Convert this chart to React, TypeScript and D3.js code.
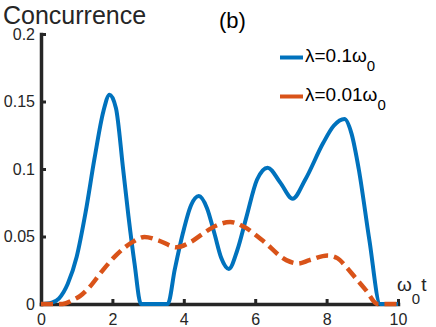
import { useEffect, useRef } from 'react';
import * as d3 from 'd3';

const W = 436, H = 327;
const M = { top: 34, right: 38, bottom: 23, left: 41 };
const X_TICKS = [0, 2, 4, 6, 8, 10];
const Y_TICKS = [0, 0.05, 0.1, 0.15, 0.2];

// lambda = 0.1 w0
const T_BLUE = [0, 0.3, 0.5, 0.75, 1.0, 1.25, 1.5, 1.75, 1.92, 2.1, 2.3, 2.45, 2.62, 2.8, 3.55, 3.75, 3.97, 4.2, 4.42, 4.65, 4.86, 5.05, 5.26, 5.5, 5.75, 6.05, 6.35, 6.7, 7.05, 7.4, 7.9, 8.2, 8.5, 8.7, 8.9, 9.2, 9.5, 10];
const C_BLUE = [0, 0.001, 0.004, 0.015, 0.035, 0.068, 0.108, 0.143, 0.155, 0.145, 0.1, 0.065, 0.03, 0, 0, 0.026, 0.052, 0.073, 0.08, 0.071, 0.052, 0.034, 0.026, 0.04, 0.064, 0.092, 0.101, 0.09, 0.078, 0.092, 0.119, 0.132, 0.137, 0.126, 0.1, 0.047, 0, 0];

// lambda = 0.01 w0
const T_RED = [0, 0.6, 0.9, 1.1, 1.36, 1.7, 2.1, 2.57, 2.9, 3.3, 3.8, 4.2, 4.53, 4.9, 5.3, 5.7, 6.21, 6.87, 7.2, 7.52, 8.03, 8.3, 8.55, 8.85, 9.1, 9.43, 10];
const C_RED = [0, 0, 0.003, 0.006, 0.0125, 0.024, 0.036, 0.046, 0.0497, 0.047, 0.042, 0.046, 0.052, 0.058, 0.0607, 0.057, 0.047, 0.0325, 0.03, 0.0325, 0.036, 0.034, 0.0275, 0.018, 0.0103, 0, 0];

const BLUE = '#0072BD', RED = '#D95319', AX = '#262626';
const FONT = '"Liberation Sans", Arial, Helvetica, sans-serif';

export default function App() {
  const ref = useRef<SVGSVGElement>(null);
  useEffect(() => {
    const svg = d3.select(ref.current); svg.selectAll('*').remove();
    const x = d3.scaleLinear().domain([0, 10]).range([M.left, W - M.right]);
    const y = d3.scaleLinear().domain([0, 0.2]).range([H - M.bottom, M.top]);

    const gx = svg.append('g').attr('transform', `translate(0,${H - M.bottom})`)
      .call(d3.axisBottom(x).tickValues(X_TICKS).tickSizeInner(-5).tickSizeOuter(0).tickPadding(10).tickFormat(d => `${d}`));
    const gy = svg.append('g').attr('transform', `translate(${M.left},0)`)
      .call(d3.axisLeft(y).tickValues(Y_TICKS).tickSizeInner(-5).tickSizeOuter(0).tickPadding(6).tickFormat(d => `${d}`));
    [gx, gy].forEach(g => {
      g.select('.domain').attr('stroke', AX).attr('stroke-width', 3.5).attr('stroke-linecap', 'square');
      g.selectAll('.tick line').attr('stroke', AX).attr('stroke-width', 3);
      g.selectAll('.tick text').attr('fill', AX).attr('font-size', 16).attr('font-family', FONT);
    });

    const mk = (ts: number[], cs: number[]) => d3.line<number>()
      .x((_, i) => x(ts[i])).y(d => y(d)).curve(d3.curveMonotoneX)(cs);
    svg.append('path').attr('d', mk(T_BLUE, C_BLUE)).attr('fill', 'none')
      .attr('stroke', BLUE).attr('stroke-width', 4).attr('stroke-linejoin', 'round');
    svg.append('path').attr('d', mk(T_RED, C_RED)).attr('fill', 'none')
      .attr('stroke', RED).attr('stroke-width', 4.5).attr('stroke-dasharray', '12,6');

    // titles
    svg.append('text').attr('x', 3).attr('y', 24).attr('font-size', 25).attr('font-family', FONT).attr('fill', AX).text('Concurrence');
    svg.append('text').attr('x', 219).attr('y', 28).attr('font-size', 22).attr('font-family', FONT).attr('fill', '#000').text('(b)');

    // x label
    const xl = svg.append('text').attr('x', 397).attr('y', 291).attr('font-size', 19).attr('font-family', FONT).attr('fill', AX);
    xl.append('tspan').text('ω');
    xl.append('tspan').attr('dy', 13).attr('font-size', 15).text('0');
    xl.append('tspan').attr('dy', -13).attr('dx', 1).text('t');

    // legend
    const LEG = [{ c: BLUE, v: '0.1', y: 62 }, { c: RED, v: '0.01', y: 101 }];
    LEG.forEach(d => {
      svg.append('line').attr('x1', 280).attr('x2', 303).attr('y1', d.y - 4.5).attr('y2', d.y - 4.5)
        .attr('stroke', d.c).attr('stroke-width', 4);
      const t = svg.append('text').attr('x', 305).attr('y', d.y).attr('font-size', 19).attr('font-family', FONT).attr('fill', '#000');
      t.append('tspan').text(`λ=${d.v}ω`);
      t.append('tspan').attr('dy', 9).attr('font-size', 15).text('0');
    });
  }, []);
  return <svg ref={ref} width={W} height={H} style={{ position: 'absolute', left: 0, top: 0, background: '#fff' }} />;
}
